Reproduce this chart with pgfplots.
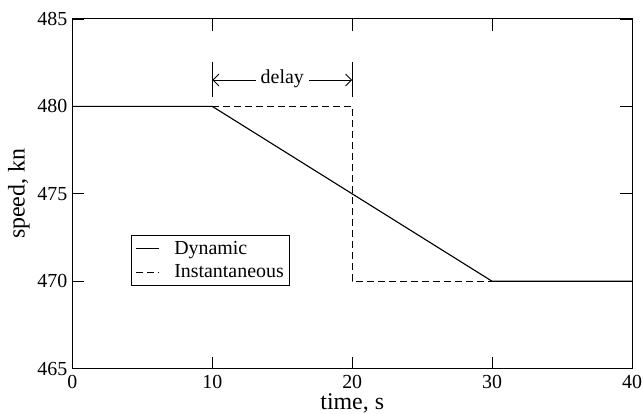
\documentclass[border=0pt]{standalone}
\usepackage{pgfplots}
\pgfplotsset{compat=1.18}
\usepackage{fontspec}
\setmainfont{Liberation Serif}
\usetikzlibrary{arrows.meta}

\begin{document}
\begin{tikzpicture}
\begin{axis}[
    scale only axis,
    width=560bp, height=350bp,
    xmin=0, xmax=40, ymin=465, ymax=485,
    xtick={0,10,...,40},
    ytick={465,470,...,485},
    tick align=inside,
    major tick length=12bp,
    tick style={black, line width=0.9pt},
    axis line style={line width=1pt},
    /pgf/number format/assume math mode=true,
    /pgf/number format/1000 sep={},
    tick label style={font=\fontsize{20}{22}\selectfont},
    yticklabel style={inner xsep=1bp, xshift=-4bp},
    xticklabel style={inner ysep=1bp, yshift=-5bp},
    label style={font=\fontsize{24}{26}\selectfont},
    xlabel={time, s},
    ylabel={speed, kn},
    xlabel style={at={(axis description cs:0.5,-0.117)}, anchor=base},
    ylabel style={at={(axis description cs:-0.0955,0.5)}, anchor=center},
    legend style={
        at={(rel axis cs:0.1045,0.383)}, anchor=north west,
        draw=black, line width=0.8pt,
        font=\fontsize{20}{22}\selectfont,
        inner xsep=4bp, inner ysep=4bp, row sep=5bp,
        cells={anchor=west},
        /tikz/every odd column/.append style={column sep=13bp},
    },
    legend image code/.code={
        \draw[#1, line width=1pt] (0bp,0bp) -- (23bp,0bp);
    },
]
\addplot[black, line width=1.1pt] coordinates {(0,480) (10,480) (30,470) (40,470)};
\addlegendentry{Dynamic}
\addplot[black, line width=1.1pt, dash pattern=on 7bp off 4bp] coordinates {(10,480) (20,480) (20,470) (30,470)};
\addlegendentry{Instantaneous}

% delay annotation
\draw[line width=0.9pt] (axis cs:10,480.54) -- (axis cs:10,482.54);
\draw[line width=0.9pt] (axis cs:20,480.54) -- (axis cs:20,482.54);
\draw[line width=0.9pt, -{Straight Barb[length=6bp, width=12bp]}] (axis cs:13.1,481.51) -- (axis cs:10,481.51);
\draw[line width=0.9pt, -{Straight Barb[length=6bp, width=12bp]}] (axis cs:16.9,481.51) -- (axis cs:20,481.51);
\node[font=\fontsize{20}{22}\selectfont] at (axis cs:15,481.6) {delay};
\end{axis}
% picture frame as in the reference
\pgfresetboundingbox
\path ([xshift=-72.5bp,yshift=-45bp]current axis.south west) rectangle ([xshift=11bp,yshift=19bp]current axis.north east);
\end{tikzpicture}
\end{document}
